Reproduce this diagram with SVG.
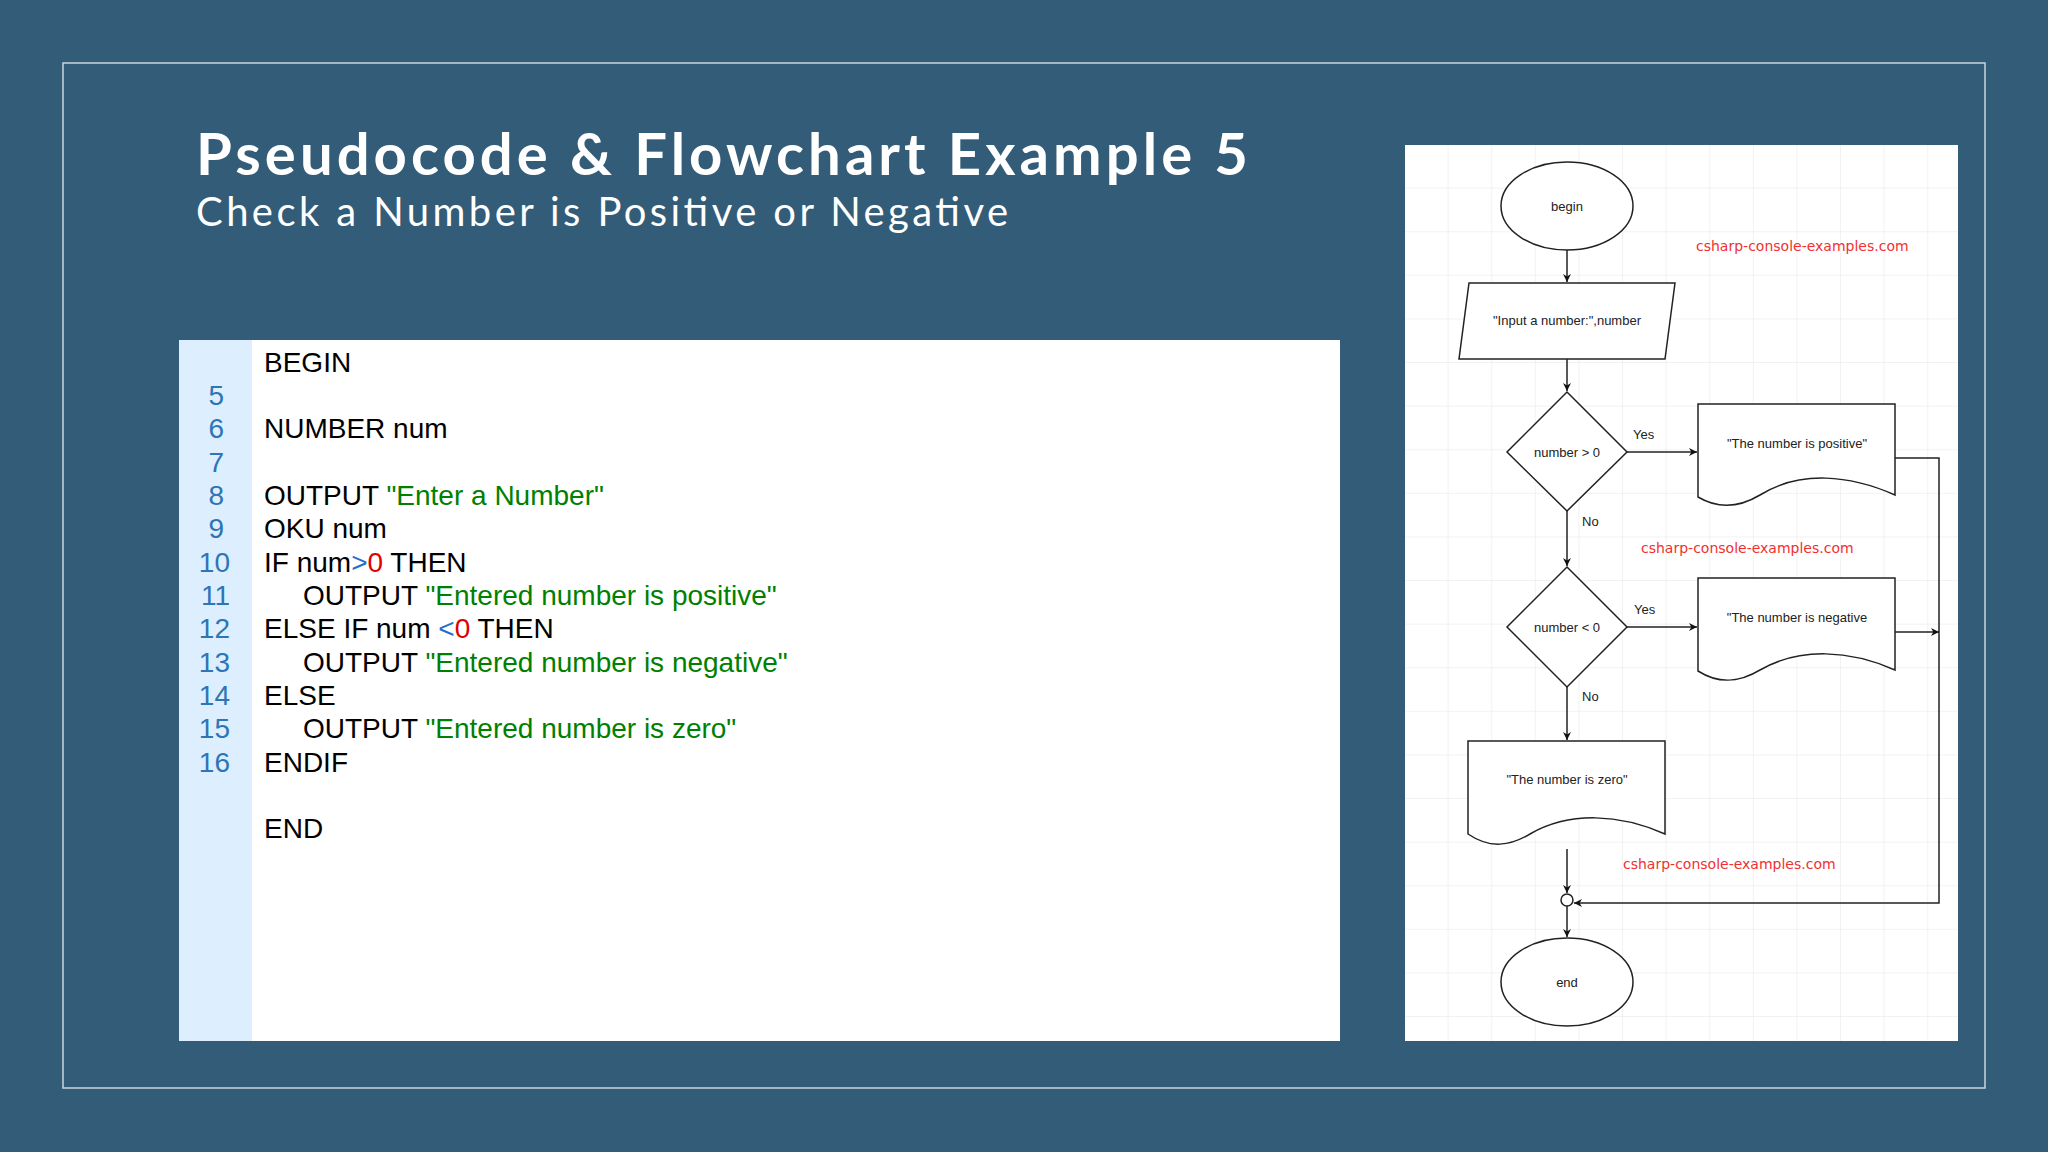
<svg xmlns="http://www.w3.org/2000/svg" width="2048" height="1152" viewBox="0 0 2048 1152">
<defs>
<style>
.code{font-family:"Liberation Sans",Arial,sans-serif;font-size:28px;fill:#000}
.num{font-family:"Liberation Sans",Arial,sans-serif;font-size:28px;fill:#2e75b6;text-anchor:end}
.g{fill:#008000}.r{fill:#e00000}.b{fill:#1f6fd0}
.fc{font-family:"Liberation Sans",Arial,sans-serif;font-size:13px;fill:#222;text-anchor:middle}
.lb{font-family:"Liberation Sans",Arial,sans-serif;font-size:13px;fill:#222}
.wm{font-family:"DejaVu Sans",sans-serif;font-size:14px;fill:#f03030}
.sh{fill:#fff;stroke:#222;stroke-width:1.5}
.ln{fill:none;stroke:#222;stroke-width:1.5}
</style>
<pattern id="grid" width="43.6" height="43.6" patternUnits="userSpaceOnUse" x="1405" y="145">
<path d="M43.6 0V43.6M0 43.6H43.6" fill="none" stroke="#e6e6e6" stroke-width="1"/>
</pattern>
<marker id="ar" viewBox="0 0 10 10" refX="10" refY="5" markerWidth="8" markerHeight="8" orient="auto" markerUnits="userSpaceOnUse"><path d="M0 0L10 5L0 10L3 5Z" fill="#111"/></marker>
</defs>
<rect width="2048" height="1152" fill="#335c78"/>
<rect x="63" y="63" width="1922" height="1025" fill="none" stroke="#c8d4dc" stroke-width="1.5"/>
<g id="title">
<text x="196" y="175" font-family="Lato,'Liberation Sans',sans-serif" font-weight="bold" font-size="58" fill="#fff" textLength="1052">Pseudocode  &amp; Flowchart Example 5</text>
<text x="196" y="226" font-family="Lato,'Liberation Sans',sans-serif" font-size="40" fill="#fff" textLength="812">Check a Number is Positive or Negative</text>
</g>
<g id="code">
<rect x="179" y="340" width="1161" height="701" fill="#fff"/>
<rect x="179" y="340" width="73" height="701" fill="#ddeeff"/>
<text class="code" x="264" y="372">BEGIN</text>
<text class="num" x="224" y="405">5</text>
<text class="num" x="224" y="438">6</text><text class="code" x="264" y="438">NUMBER num</text>
<text class="num" x="224" y="472">7</text>
<text class="num" x="224" y="505">8</text><text class="code" x="264" y="505">OUTPUT <tspan class="g">"Enter a Number"</tspan></text>
<text class="num" x="224" y="538">9</text><text class="code" x="264" y="538">OKU num</text>
<text class="num" x="230" y="572">10</text><text class="code" x="264" y="572">IF num<tspan class="b">&gt;</tspan><tspan class="r">0</tspan>  THEN</text>
<text class="num" x="230" y="605">11</text><text class="code" x="303" y="605">OUTPUT <tspan class="g">"Entered number is positive"</tspan></text>
<text class="num" x="230" y="638">12</text><text class="code" x="264" y="638">ELSE IF num <tspan class="b">&lt;</tspan><tspan class="r">0</tspan> THEN</text>
<text class="num" x="230" y="672">13</text><text class="code" x="303" y="672">OUTPUT <tspan class="g">"Entered number is negative"</tspan></text>
<text class="num" x="230" y="705">14</text><text class="code" x="264" y="705">ELSE</text>
<text class="num" x="230" y="738">15</text><text class="code" x="303" y="738">OUTPUT <tspan class="g">"Entered number is zero"</tspan></text>
<text class="num" x="230" y="772">16</text><text class="code" x="264" y="772">ENDIF</text>
<text class="code" x="264" y="838">END</text>
</g>
<rect x="1405" y="145" width="553" height="896" fill="#fff"/>
<rect x="1405" y="145" width="553" height="896" fill="url(#grid)"/>
<g id="connectors">
<path class="ln" d="M1567 250V282" marker-end="url(#ar)"/>
<path class="ln" d="M1567 359V391" marker-end="url(#ar)"/>
<path class="ln" d="M1627 452H1697" marker-end="url(#ar)"/>
<path class="ln" d="M1567 511V566" marker-end="url(#ar)"/>
<path class="ln" d="M1627 627H1697" marker-end="url(#ar)"/>
<path class="ln" d="M1567 687V740" marker-end="url(#ar)"/>
<path class="ln" d="M1895 458H1939V903H1574" marker-end="url(#ar)"/>
<path class="ln" d="M1895 632H1939" marker-end="url(#ar)"/>
<path class="ln" d="M1567 849V893" marker-end="url(#ar)"/>
<path class="ln" d="M1567 906V937" marker-end="url(#ar)"/>
<circle cx="1567" cy="900" r="6" class="sh"/>
<text class="lb" x="1633" y="439">Yes</text>
<text class="lb" x="1582" y="526">No</text>
<text class="lb" x="1634" y="614">Yes</text>
<text class="lb" x="1582" y="701">No</text>
</g>
<g id="begin"><ellipse class="sh" cx="1567" cy="206" rx="66" ry="44"/><text class="fc" x="1567" y="211">begin</text></g>
<g id="input"><path class="sh" d="M1469 283H1675L1665 359H1459Z"/><text class="fc" x="1567" y="325">"Input a number:",number</text></g>
<g id="dec1"><path class="sh" d="M1567 392L1627 452L1567 511L1507 452Z"/><text class="fc" x="1567" y="457">number &gt; 0</text></g>
<g id="pos"><path class="sh" d="M1698 404H1895V495C1850 475 1800 470 1760 495C1740 507 1720 510 1698 497Z"/><text class="fc" x="1797" y="448">"The number is positive"</text></g>
<g id="dec2"><path class="sh" d="M1567 567L1627 627L1567 687L1507 627Z"/><text class="fc" x="1567" y="632">number &lt; 0</text></g>
<g id="neg"><path class="sh" d="M1698 578H1895V670C1850 650 1800 647 1760 670C1740 682 1720 685 1698 671Z"/><text class="fc" x="1797" y="622">"The number is negative</text></g>
<g id="zero"><path class="sh" d="M1468 741H1665V834C1620 814 1570 811 1530 834C1510 846 1490 849 1468 834Z"/><text class="fc" x="1567" y="784">"The number is zero"</text></g>
<g id="end"><ellipse class="sh" cx="1567" cy="982" rx="66" ry="44"/><text class="fc" x="1567" y="987">end</text></g>
<g id="watermarks">
<text class="wm" x="1696" y="251">csharp-console-examples.com</text>
<text class="wm" x="1641" y="553">csharp-console-examples.com</text>
<text class="wm" x="1623" y="869">csharp-console-examples.com</text>
</g>
</svg>
